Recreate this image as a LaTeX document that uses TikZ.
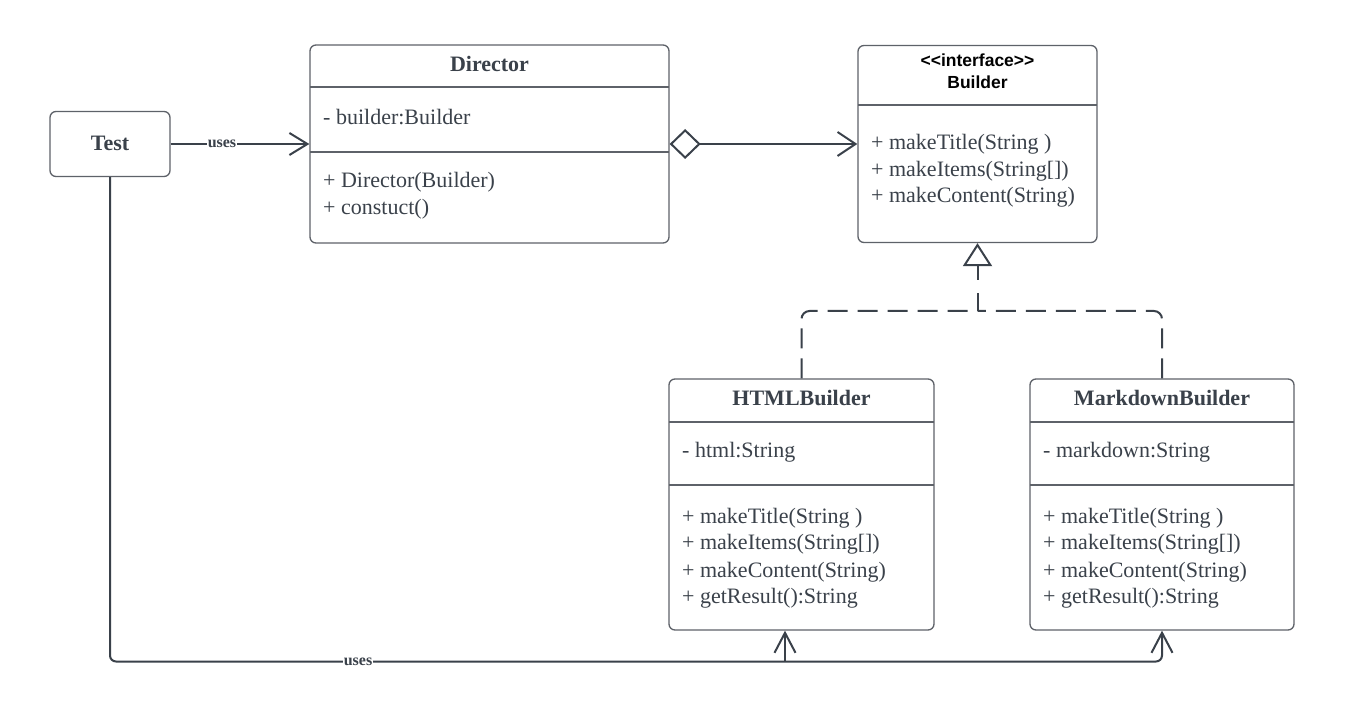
\documentclass[tikz,border=0pt]{standalone}
\usepackage{fontspec}
\setmainfont{Liberation Serif}
\newfontfamily\ifsans{Liberation Sans}
\usetikzlibrary{arrows.meta}
\definecolor{ink}{HTML}{3A414A}
\definecolor{edge}{HTML}{5E6269}
\tikzset{
  cls/.style={draw=edge, line width=1.3pt, rounded corners=6pt, fill=white, inner sep=0pt},
  divl/.style={draw=edge, line width=1.2pt},
  ttl/.style={font=\fontsize{22}{26}\selectfont\bfseries, text=ink, anchor=base, inner sep=0pt},
  ifc/.style={font=\ifsans\fontsize{17.5}{20}\selectfont\bfseries, text=black, anchor=base, inner sep=0pt},
  txt/.style={font=\fontsize{22}{26}\selectfont, text=ink, anchor=base west, inner sep=0pt},
  conn/.style={draw=ink, line width=2pt},
  dsh/.style={dash pattern=on 20pt off 10pt},
  lbl/.style={font=\fontsize{16}{18}\selectfont\bfseries, text=ink, fill=white, inner sep=1pt},
  barb/.style={-{Straight Barb[length=18pt,width=22pt]}},
}
\begin{document}
\begin{tikzpicture}[x=1pt,y=-1pt]
\useasboundingbox[fill=white] (0,0) rectangle (1345,708);

% Test
\node[cls, minimum width=120pt, minimum height=65pt] (test) at (110,144) {};
\node[ttl] (testt) at (110,151) {Test};

% Director
\node[cls, minimum width=359pt, minimum height=198pt] (dir) at (489.5,144) {};
\node[ttl] (dirt) at (489.5,72) {Director};
\draw[divl] (310,87) -- (669,87);
\draw[divl] (310,152) -- (669,152);
\node[txt] (dira) at (323,125) {- builder:Builder};
\node[txt] (dirm1) at (323,188) {+ Director(Builder)};
\node[txt] (dirm2) at (323,215) {+ constuct()};

% Builder
\node[cls, minimum width=239pt, minimum height=197pt] (bld) at (977.5,144) {};
\node[ifc] (bldi) at (977.5,67) {{<}{<}interface{>}{>}};
\node[ifc] (bldt) at (977.5,89) {Builder};
\draw[divl] (858,105) -- (1097,105);
\node[txt] (bldm1) at (871,150) {+ makeTitle(String )};
\node[txt] (bldm2) at (871,177) {+ makeItems(String[])};
\node[txt] (bldm3) at (871,203) {+ makeContent(String)};

% HTMLBuilder
\node[cls, minimum width=265pt, minimum height=251pt] (html) at (801.5,504.5) {};
\node[ttl] (htmlt) at (801.5,406) {HTMLBuilder};
\draw[divl] (669,422) -- (934,422);
\draw[divl] (669,485) -- (934,485);
\node[txt] (htmla) at (682,458) {- html:String};
\node[txt] (htmlm1) at (682,523) {+ makeTitle(String )};
\node[txt] (htmlm2) at (682,550) {+ makeItems(String[])};
\node[txt] (htmlm3) at (682,577) {+ makeContent(String)};
\node[txt] (htmlm4) at (682,603) {+ getResult():String};

% MarkdownBuilder
\node[cls, minimum width=264pt, minimum height=251pt] (md) at (1162,504.5) {};
\node[ttl] (mdt) at (1162,406) {MarkdownBuilder};
\draw[divl] (1030,422) -- (1294,422);
\draw[divl] (1030,485) -- (1294,485);
\node[txt] (mda) at (1043,458) {- markdown:String};
\node[txt] (mdm1) at (1043,523) {+ makeTitle(String )};
\node[txt] (mdm2) at (1043,550) {+ makeItems(String[])};
\node[txt] (mdm3) at (1043,577) {+ makeContent(String)};
\node[txt] (mdm4) at (1043,603) {+ getResult():String};

% Test uses Director
\draw[conn, barb] (test.east) -- (test.east -| dir.west);
\node[lbl] (u1) at (222,144) {uses};

% Director aggregates Builder
\draw[conn, {Diamond[open,length=31pt,width=30pt]}-{Straight Barb[length=18pt,width=24pt]}] (dir.east) -- (bld.west);

% Realization
\coordinate (rj) at (977.5,311);
\draw[conn, dsh, rounded corners=8pt] (html.north) |- (rj);
\draw[conn, dsh, rounded corners=8pt] (md.north) |- (rj);
\draw[conn, dash pattern=on 18pt off 13pt on 40pt, -{Triangle[open,length=23pt,width=29pt]}] (rj) -- (bld.south);

% Test uses HTMLBuilder / MarkdownBuilder
\coordinate (bc) at (1162,661.5);
\coordinate (hj) at (785,661.5);
\draw[conn, rounded corners=6pt, -{Straight Barb[length=20pt,width=21pt]}] (test.south) |- (bc) -- (md.south);
\draw[conn, -{Straight Barb[length=20pt,width=21pt]}] (hj) -- (hj |- html.south);
\node[lbl] (u2) at (358,661.5) {uses};
\end{tikzpicture}
\end{document}
